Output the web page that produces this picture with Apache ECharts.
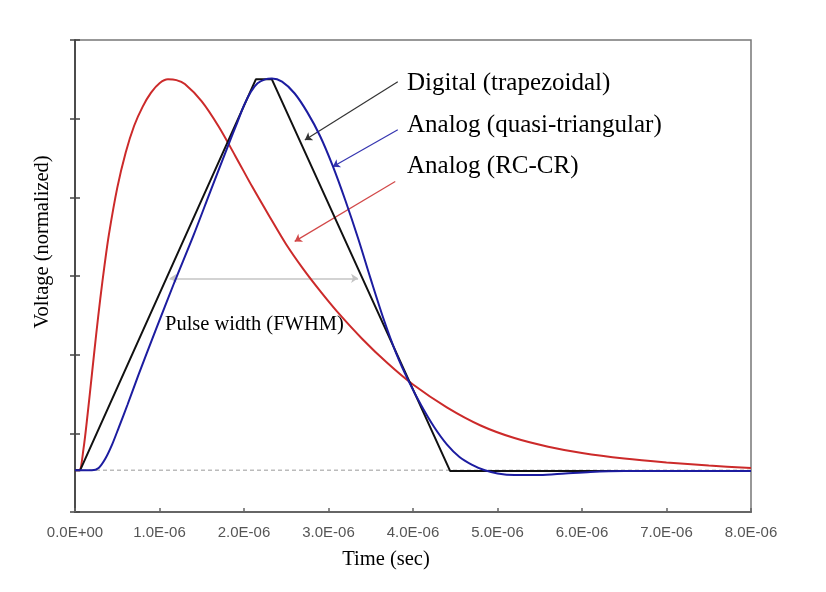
<!DOCTYPE html>
<html lang="en">
<head>
<meta charset="UTF-8">
<title>Pulse shapes</title>
<style>
    * { margin: 0; padding: 0; }
    html, body { background: #fff; }
    #main { width: 826px; height: 592px; }
</style>
<script src="https://cdn.jsdelivr.net/npm/echarts@6/dist/echarts.min.js"></script>
</head>
<body>
<div id="main"></div>
<script>
    // time in microseconds, voltage in plot units (axis 0..6, baseline ~0.53, peak ~5.5)
    var xTickLabels = ['0.0E+00', '1.0E-06', '2.0E-06', '3.0E-06', '4.0E-06', '5.0E-06', '6.0E-06', '7.0E-06', '8.0E-06'];

    var digitalTime = [0, 0.06, 2.14, 2.33, 4.44, 8.0];
    var digitalVolt = [0.53, 0.53, 5.50, 5.50, 0.52, 0.52];

    var quasiTime = [0, 0.20, 0.28, 0.36, 0.44, 0.52, 0.62, 0.75, 0.95, 1.18, 1.40, 1.60, 1.82, 1.92, 2.00, 2.08, 2.16, 2.25, 2.33,
        2.45, 2.60, 2.75, 2.90, 3.05, 3.20, 3.35, 3.50, 3.65, 3.80, 3.95, 4.10, 4.25, 4.40, 4.55, 4.70, 4.85, 5.00, 5.20, 5.50, 5.80, 6.10, 6.50, 8.0];
    var quasiVolt = [0.53, 0.53, 0.56, 0.68, 0.86, 1.08, 1.36, 1.74, 2.30, 2.93, 3.51, 4.07, 4.68, 4.95, 5.17, 5.34, 5.45, 5.50, 5.51,
        5.47, 5.32, 5.08, 4.78, 4.40, 3.96, 3.48, 2.96, 2.46, 2.02, 1.66, 1.35, 1.08, 0.86, 0.70, 0.60, 0.53, 0.49, 0.47, 0.47, 0.49, 0.51, 0.52, 0.52];

    var rcTime = [0, 0.05, 0.10, 0.15, 0.20, 0.25, 0.30, 0.35, 0.40, 0.50, 0.60, 0.70, 0.80, 0.90, 1.00, 1.10, 1.20, 1.30, 1.50, 1.70, 1.90,
        2.10, 2.30, 2.50, 2.70, 2.90, 3.10, 3.40, 3.70, 4.00, 4.40, 4.80, 5.20, 5.60, 6.00, 6.50, 7.00, 7.50, 8.0];
    var rcVolt = [0.53, 0.53, 0.80, 1.25, 1.75, 2.25, 2.72, 3.14, 3.52, 4.12, 4.57, 4.91, 5.15, 5.33, 5.45, 5.50, 5.49, 5.44, 5.22, 4.90, 4.52,
        4.13, 3.76, 3.40, 3.09, 2.81, 2.55, 2.20, 1.89, 1.62, 1.33, 1.10, 0.94, 0.83, 0.75, 0.68, 0.63, 0.59, 0.56];

    var baseTime = [0, 8.0];
    var baseVolt = [0.53, 0.53];

    // annotation arrows: [t0, v0, t1, v1]
    var arrowDigital = [3.82, 5.47, 2.72, 4.73];
    var arrowQuasi = [3.82, 4.86, 3.05, 4.39];
    var arrowRc = [3.79, 4.20, 2.60, 3.44];
    var fwhmLine = [1.12, 2.97, 3.35, 2.97];

    function zip(a, b) {
        return a.map(function (v, i) { return [v, b[i]]; });
    }
    function arrow(p, color, width, both) {
        return [
            { coord: [p[0], p[1]], symbol: both ? 'arrow' : 'none', symbolSize: 7 },
            { coord: [p[2], p[3]], symbol: 'arrow', symbolSize: 7, lineStyle: { color: color, width: width, type: 'solid' } }
        ];
    }

    var serif = '"Liberation Serif", "Times New Roman", serif';
    var chart = echarts.init(document.getElementById('main'));
    var option = {
        backgroundColor: '#fff',
        animation: false,
        grid: {
            left: 75, right: 75, top: 40, bottom: 80,
            show: true, borderColor: '#777', borderWidth: 1.5, backgroundColor: 'transparent'
        },
        xAxis: {
            type: 'value', min: 0, max: 8, interval: 1,
            axisLine: { lineStyle: { color: '#666', width: 2 } },
            axisTick: { inside: true, length: 4, lineStyle: { color: '#666', width: 1.5 } },
            splitLine: { show: false },
            axisLabel: {
                color: '#555', fontSize: 15, fontFamily: '"Liberation Sans", Arial, sans-serif',
                margin: 13,
                formatter: function (v) { return xTickLabels[Math.round(v)]; }
            }
        },
        yAxis: [{
            type: 'value', min: 0, max: 6, interval: 1,
            axisLine: { show: true, lineStyle: { color: '#333', width: 1.5 } },
            axisTick: { show: true, length: 5, lineStyle: { color: '#444', width: 1.5 } },
            splitLine: { show: false },
            axisLabel: { show: false }
        }, {
            type: 'value', min: 0, max: 6, interval: 1, position: 'left',
            axisLine: { show: false },
            axisTick: { show: true, inside: true, length: 5, lineStyle: { color: '#444', width: 1.5 } },
            splitLine: { show: false },
            axisLabel: { show: false }
        }],
        series: [
            {
                name: 'baseline', type: 'line', data: zip(baseTime, baseVolt),
                symbol: 'none', silent: true, z: 1,
                lineStyle: { color: '#bbb', width: 1.5, type: [4, 3] },
                markLine: {
                    silent: true, z: 1,
                    label: { show: false },
                    lineStyle: { type: 'solid', width: 1 },
                    data: [
                        arrow(arrowDigital, '#333', 1.2, false),
                        arrow(arrowQuasi, '#3535b0', 1.2, false),
                        arrow(arrowRc, '#d24848', 1.2, false),
                        arrow(fwhmLine, '#c4c4c4', 1.5, true)
                    ]
                }
            },
            {
                name: 'Analog (RC-CR)', type: 'line', data: zip(rcTime, rcVolt),
                smooth: 0.3, symbol: 'none', z: 3,
                lineStyle: { color: '#cc2a2a', width: 2 }
            },
            {
                name: 'Digital (trapezoidal)', type: 'line', data: zip(digitalTime, digitalVolt),
                symbol: 'none', z: 4,
                lineStyle: { color: '#111', width: 2 }
            },
            {
                name: 'Analog (quasi-triangular)', type: 'line', data: zip(quasiTime, quasiVolt),
                smooth: 0.3, symbol: 'none', z: 5,
                lineStyle: { color: '#1c1ca0', width: 2 }
            }
        ],
        graphic: [
            { type: 'text', x: 407, y: 83, style: { text: 'Digital (trapezoidal)', font: '25px ' + serif, fill: '#000', verticalAlign: 'middle' } },
            { type: 'text', x: 407, y: 125, style: { text: 'Analog (quasi-triangular)', font: '25px ' + serif, fill: '#000', verticalAlign: 'middle' } },
            { type: 'text', x: 407, y: 166, style: { text: 'Analog (RC-CR)', font: '25px ' + serif, fill: '#000', verticalAlign: 'middle' } },
            { type: 'text', x: 165, y: 325, style: { text: 'Pulse width (FWHM)', font: '20.5px ' + serif, fill: '#000', verticalAlign: 'middle' } },
            { type: 'text', x: 386, y: 560, style: { text: 'Time (sec)', font: '20.5px ' + serif, fill: '#000', align: 'center', verticalAlign: 'middle' } },
            { type: 'text', x: 43, y: 242, rotation: Math.PI / 2, style: { text: 'Voltage (normalized)', font: '20.5px ' + serif, fill: '#000', align: 'center', verticalAlign: 'middle' } }
        ]
    };
    chart.setOption(option);
</script>
</body>
</html>
